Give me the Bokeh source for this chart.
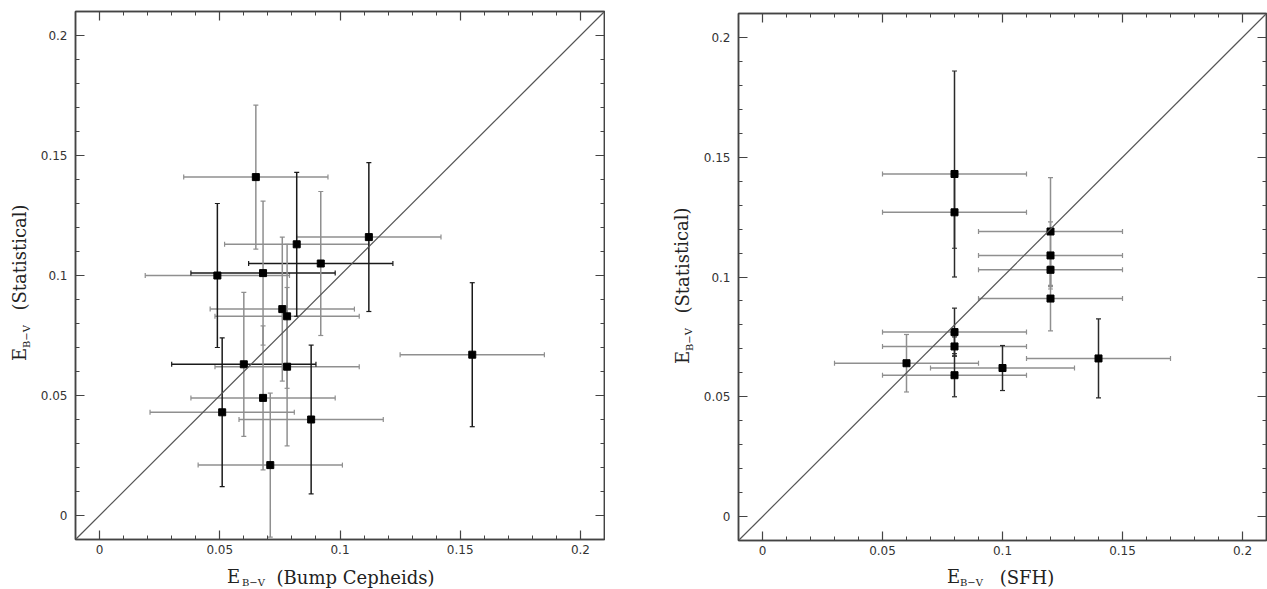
from bokeh.plotting import figure
from bokeh.models import (Range1d, LinearAxis, SingleIntervalTicker, CustomJSTickFormatter,
                          ColumnDataSource, Whisker, TeeHead, Slope, Label)
from bokeh.layouts import row, column
from bokeh.embed import file_html
from bokeh.resources import INLINE

# ---------------- data: left panel (bump Cepheids vs statistical) ----------------
bump_x = [0.065, 0.082, 0.049, 0.068, 0.092, 0.068, 0.112, 0.076, 0.078, 0.078, 0.060, 0.051, 0.088, 0.071, 0.155]
bump_y = [0.141, 0.113, 0.100, 0.101, 0.105, 0.049, 0.116, 0.086, 0.083, 0.062, 0.063, 0.043, 0.040, 0.021, 0.067]
bump_xerr = [0.030, 0.030, 0.030, 0.030, 0.030, 0.030, 0.030, 0.030, 0.030, 0.030, 0.030, 0.030, 0.030, 0.030, 0.030]
bump_yerr = [0.030, 0.030, 0.030, 0.030, 0.030, 0.030, 0.031, 0.030, 0.030, 0.033, 0.030, 0.031, 0.031, 0.030, 0.030]
bump_xerr_dark = [0, 0, 0, 1, 1, 0, 0, 0, 0, 0, 1, 0, 0, 0, 0]
bump_yerr_dark = [0, 1, 1, 0, 0, 0, 1, 0, 0, 0, 0, 1, 1, 0, 1]

# ---------------- data: right panel (SFH vs statistical) ----------------
sfh_x = [0.080, 0.080, 0.120, 0.120, 0.120, 0.120, 0.080, 0.080, 0.080, 0.060, 0.100, 0.140]
sfh_y = [0.143, 0.127, 0.119, 0.109, 0.103, 0.091, 0.077, 0.071, 0.059, 0.064, 0.062, 0.066]
sfh_xerr = [0.030, 0.030, 0.030, 0.030, 0.030, 0.030, 0.030, 0.030, 0.030, 0.030, 0.030, 0.030]
sfh_yerr = [0.043, 0.015, 0.0225, 0.014, 0.007, 0.0135, 0.010, 0.004, 0.009, 0.012, 0.0094, 0.0165]
sfh_xerr_dark = [0, 0, 0, 0, 0, 0, 0, 0, 0, 0, 0, 0]
sfh_yerr_dark = [1, 1, 0, 0, 0, 0, 1, 1, 1, 0, 1, 1]

axis_range = (-0.01, 0.21)
tick_interval = 0.05

y_title = "(Statistical)"
x_title_left = "(Bump Cepheids)"
x_title_right = "(SFH)"
sym_main = "E"
sym_sub = "B\u2212V"

SERIF = "DejaVu Serif"
SANS = "DejaVu Sans"
DARK = "#1a1a1a"
GRAY = "#8f8f8f"
FRAME = "#444444"
TEXT = "#222222"

MAIN_H = 560
XLAB_H = 28


def style_axis(ax, show_labels):
    ax.ticker = SingleIntervalTicker(interval=tick_interval, num_minor_ticks=5)
    ax.axis_line_color = FRAME
    ax.axis_line_width = 1.5
    ax.major_tick_line_color = FRAME
    ax.minor_tick_line_color = FRAME
    ax.major_tick_line_width = 1.2
    ax.minor_tick_line_width = 1.0
    ax.major_tick_in = 9
    ax.major_tick_out = 0
    ax.minor_tick_in = 4
    ax.minor_tick_out = 0
    if show_labels:
        ax.formatter = CustomJSTickFormatter(code="return (Math.round(tick*100)/100).toString();")
        ax.major_label_text_font = SANS
        ax.major_label_text_font_size = "12px"
        ax.major_label_text_color = "#333333"
    else:
        ax.formatter = CustomJSTickFormatter(code="return '';")
        ax.major_label_text_font_size = "0px"
        ax.major_label_standoff = 0


def add_bars(p, xs, ys, xerr, yerr, xdark, ydark, dark_color):
    for dark_flag, color in ((0, GRAY), (1, dark_color)):
        idx = [i for i in range(len(xs)) if xdark[i] == dark_flag]
        if idx:
            src = ColumnDataSource(dict(
                base=[ys[i] for i in idx],
                lo=[xs[i] - xerr[i] for i in idx],
                hi=[xs[i] + xerr[i] for i in idx]))
            p.add_layout(Whisker(source=src, base="base", lower="lo", upper="hi", dimension="width",
                                 line_color=color, line_width=1.5, level="underlay",
                                 lower_head=TeeHead(size=5, line_color=color, line_width=1.2),
                                 upper_head=TeeHead(size=5, line_color=color, line_width=1.2)))
    for dark_flag, color in ((0, GRAY), (1, dark_color)):
        idx = [i for i in range(len(xs)) if ydark[i] == dark_flag]
        if idx:
            src = ColumnDataSource(dict(
                base=[xs[i] for i in idx],
                lo=[ys[i] - yerr[i] for i in idx],
                hi=[ys[i] + yerr[i] for i in idx]))
            p.add_layout(Whisker(source=src, base="base", lower="lo", upper="hi", dimension="height",
                                 line_color=color, line_width=1.5, level="underlay",
                                 lower_head=TeeHead(size=5, line_color=color, line_width=1.2),
                                 upper_head=TeeHead(size=5, line_color=color, line_width=1.2)))


def make_main(xs, ys, xerr, yerr, xdark, ydark, dark_color, width, bl, br, bt, bb):
    p = figure(width=width, height=MAIN_H, x_range=Range1d(*axis_range), y_range=Range1d(*axis_range),
               output_backend="svg", toolbar_location=None,
               min_border_left=bl, min_border_right=br, min_border_top=bt, min_border_bottom=bb)
    p.grid.visible = False
    p.outline_line_color = FRAME
    p.outline_line_width = 1.5
    p.background_fill_color = "white"
    p.border_fill_color = "white"
    style_axis(p.xaxis[0], True)
    style_axis(p.yaxis[0], True)
    p.xaxis[0].major_label_standoff = 5
    p.yaxis[0].major_label_standoff = 8
    top = LinearAxis()
    right = LinearAxis()
    style_axis(top, False)
    style_axis(right, False)
    p.add_layout(top, "above")
    p.add_layout(right, "right")

    p.add_layout(Slope(gradient=1, y_intercept=0, line_color="#555555", line_width=1.2))
    add_bars(p, xs, ys, xerr, yerr, xdark, ydark, dark_color)
    p.scatter(xs, ys, marker="square", size=7, fill_color="black", line_color="black")
    return p


def text_canvas(width, height):
    p = figure(width=width, height=height, x_range=Range1d(0, width), y_range=Range1d(0, height),
               output_backend="svg", toolbar_location=None,
               min_border_left=0, min_border_right=0, min_border_top=0, min_border_bottom=0)
    p.axis.visible = False
    p.grid.visible = False
    p.outline_line_color = None
    p.background_fill_color = "white"
    p.border_fill_color = "white"
    return p


def add_text(p, text, x, y, size, angle=0.0):
    # x, y: centre of the text, in pixels from the canvas' left / bottom
    p.add_layout(Label(x=x, y=y, x_units="screen", y_units="screen", text=text,
                       text_font=SERIF, text_font_size=size, text_color=TEXT,
                       text_align="center", text_baseline="middle", angle=angle))


def y_title_canvas(width, cx, cy_e, cy_sub, cy_title):
    c = text_canvas(width, MAIN_H)
    add_text(c, sym_main, cx, cy_e, "18px", angle=1.5708)
    add_text(c, sym_sub, cx + 7, cy_sub, "10px", angle=1.5708)
    add_text(c, y_title, cx, cy_title, "18px", angle=1.5708)
    return c


def x_title_canvas(width, cx_e, cx_sub, cx_title, title):
    c = text_canvas(width, XLAB_H)
    add_text(c, sym_main, cx_e, 12, "18px")
    add_text(c, sym_sub, cx_sub, 6.5, "10px")
    add_text(c, title, cx_title, 11.5, "18px")
    return c


# left block
yl1 = y_title_canvas(36, 19, 185, 203, 282)
m1 = make_main(bump_x, bump_y, bump_xerr, bump_yerr, bump_xerr_dark, bump_yerr_dark, DARK,
               569, 39, 1, 11, 21)
xl1 = x_title_canvas(605, 233, 253, 355, x_title_left)

# right block
yl2 = y_title_canvas(95, 76.5, 183, 201, 280)
m2 = make_main(sfh_x, sfh_y, sfh_xerr, sfh_yerr, sfh_xerr_dark, sfh_yerr_dark, "#2a2a2a",
               567, 38, 1, 13, 20)
xl2 = x_title_canvas(662, 348, 366, 421.5, x_title_right)

layout = row(column(row(yl1, m1), xl1), column(row(yl2, m2), xl2))
open("out.html", "w").write(file_html(layout, INLINE))
